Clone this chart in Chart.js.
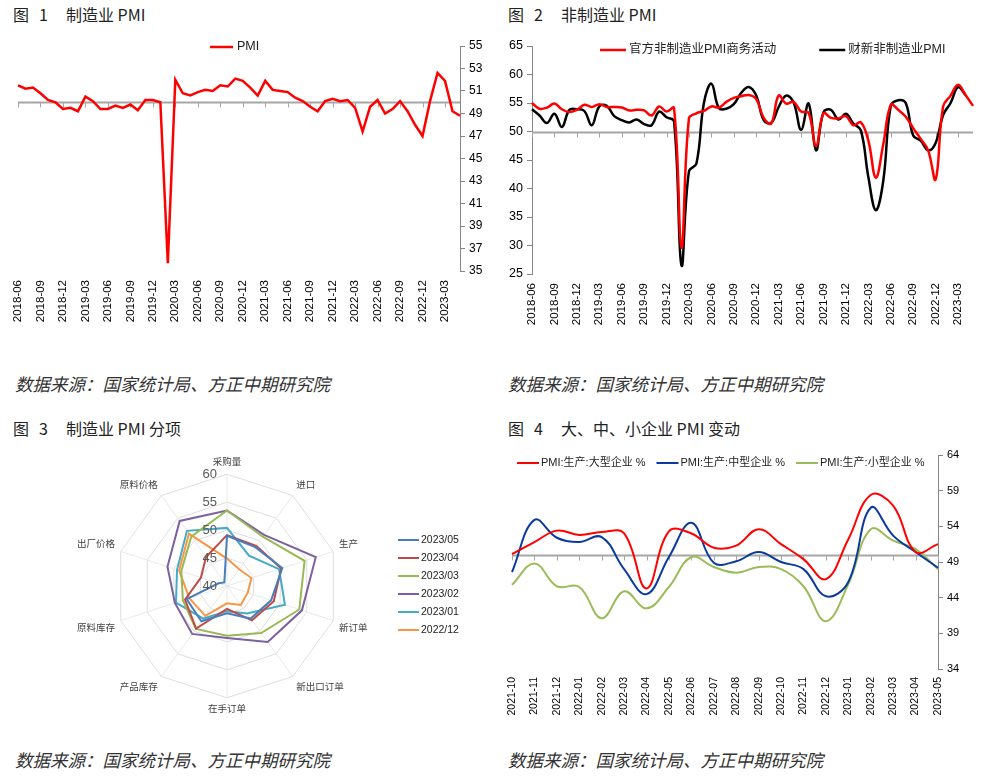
<!DOCTYPE html>
<html>
<head>
<meta charset="utf-8">
<script src="https://cdn.jsdelivr.net/npm/chart.js@4.4.0/dist/chart.umd.min.js"></script>
<style>
body { margin: 0; background: #fff; width: 986px; height: 777px; position: relative; overflow: hidden; font-family: 'Noto Sans CJK SC', sans-serif; }
.ttl { position: absolute; font-size: 16px; color: #222; line-height: 20px; white-space: nowrap; }
.ttl span { display: inline-block; }
.src { position: absolute; font-size: 17.5px; font-style: italic; color: #333; line-height: 22px; white-space: nowrap; }
canvas { position: absolute; }
</style>
</head>
<body>
<div class="ttl" style="left:13px;top:4px"><span style="width:26px">图</span><span style="width:27px">1</span>制造业 PMI</div>
<div class="ttl" style="left:508px;top:4px"><span style="width:26px">图</span><span style="width:27px">2</span>非制造业 PMI</div>
<div class="ttl" style="left:13px;top:418px"><span style="width:26px">图</span><span style="width:27px">3</span>制造业 PMI 分项</div>
<div class="ttl" style="left:508px;top:418px"><span style="width:26px">图</span><span style="width:27px">4</span>大、中、小企业 PMI 变动</div>
<div class="src" style="left:15px;top:373px">数据来源：国家统计局、方正中期研究院</div>
<div class="src" style="left:508px;top:373px">数据来源：国家统计局、方正中期研究院</div>
<div class="src" style="left:15px;top:749px">数据来源：国家统计局、方正中期研究院</div>
<div class="src" style="left:508px;top:749px">数据来源：国家统计局、方正中期研究院</div>

<canvas id="c1" width="490" height="305" style="left:0;top:30px"></canvas>
<canvas id="c2" width="491" height="305" style="left:495px;top:30px"></canvas>
<canvas id="c3" width="490" height="300" style="left:0;top:440px"></canvas>
<canvas id="c4" width="491" height="290" style="left:495px;top:440px"></canvas>

<script>
// ---- data ----
const months = [
  '2018-06','2018-07','2018-08','2018-09','2018-10','2018-11','2018-12',
  '2019-01','2019-02','2019-03','2019-04','2019-05','2019-06','2019-07','2019-08','2019-09','2019-10','2019-11','2019-12',
  '2020-01','2020-02','2020-03','2020-04','2020-05','2020-06','2020-07','2020-08','2020-09','2020-10','2020-11','2020-12',
  '2021-01','2021-02','2021-03','2021-04','2021-05','2021-06','2021-07','2021-08','2021-09','2021-10','2021-11','2021-12',
  '2022-01','2022-02','2022-03','2022-04','2022-05','2022-06','2022-07','2022-08','2022-09','2022-10','2022-11','2022-12',
  '2023-01','2023-02','2023-03','2023-04','2023-05'
];
const mfgPMI = [
  51.5, 51.2, 51.3, 50.8, 50.2, 50.0, 49.4,
  49.5, 49.2, 50.5, 50.1, 49.4, 49.4, 49.7, 49.5, 49.8, 49.3, 50.2, 50.2,
  50.0, 35.7, 52.0, 50.8, 50.6, 50.9, 51.1, 51.0, 51.5, 51.4, 52.1, 51.9,
  51.3, 50.6, 51.9, 51.1, 51.0, 50.9, 50.4, 50.1, 49.6, 49.2, 50.1, 50.3,
  50.1, 50.2, 49.5, 47.4, 49.6, 50.2, 49.0, 49.4, 50.1, 49.2, 48.0, 47.0,
  50.1, 52.6, 51.9, 49.2, 48.8
];
const officialNonMfg = [
  55.0, 54.0, 54.2, 54.9, 53.9, 53.4, 53.8,
  54.7, 54.3, 54.8, 54.3, 54.3, 54.2, 53.7, 53.8, 53.7, 52.8, 54.4, 53.5,
  54.1, 29.6, 52.3, 53.2, 53.6, 54.4, 54.2, 55.2, 55.9, 56.2, 56.4, 55.7,
  52.4, 51.4, 56.3, 54.9, 55.2, 53.5, 53.3, 47.5, 53.2, 52.4, 52.3, 52.7,
  51.1, 51.6, 48.4, 41.9, 47.8, 54.7, 53.8, 52.6, 50.6, 48.7, 46.7, 41.6,
  54.4, 56.3, 58.2, 56.4, 54.5
];
const caixinNonMfg = [
  53.9, 52.8, 51.5, 53.1, 50.8, 53.8, 53.9,
  53.6, 51.1, 54.4, 54.5, 52.7, 52.0, 51.6, 52.1, 51.3, 51.1, 53.5, 52.5,
  51.8, 26.5, 43.0, 44.4, 55.0, 58.4, 54.1, 54.0, 54.8, 56.8, 57.8, 56.3,
  52.0, 51.5, 54.3, 56.3, 55.1, 50.3, 54.9, 46.7, 53.4, 53.8, 52.1, 53.1,
  51.4, 50.2, 42.0, 36.2, 41.4, 54.5, 55.5, 55.0, 49.3, 48.4, 46.7, 48.0,
  52.9, 55.0, 57.8, 56.4, null
];

const radarAxes = ['采购量', '进口', '生产', '新订单', '新出口订单', '在手订单', '产品库存', '原料库存', '出厂价格', '原料价格'];
const radarNames = ['2023/05', '2023/04', '2023/03', '2023/02', '2023/01', '2022/12'];
const radarColors = ['#4a7ebb', '#be4b48', '#98b954', '#7d60a0', '#46aac5', '#f79646'];
const sub202305 = [49.0, 48.6, 50.4, 48.3, 47.2, 44.9, 47.8, 47.6, 41.6, 40.8];
const sub202304 = [49.1, 48.9, 50.2, 48.8, 47.6, 44.1, 49.4, 47.9, 44.9, 46.4];
const sub202303 = [53.5, 50.9, 54.6, 53.6, 50.4, 48.9, 49.5, 48.3, 48.6, 50.9];
const sub202302 = [53.5, 51.3, 56.7, 54.1, 52.4, 49.3, 50.6, 49.8, 51.2, 54.4];
const sub202301 = [50.4, 46.7, 49.8, 50.9, 46.1, 44.5, 47.2, 49.6, 49.4, 52.2];
const sub202212 = [44.9, 43.7, 44.6, 43.9, 44.2, 43.1, 46.6, 47.1, 49.0, 51.6];
const radarSeries = [sub202305, sub202304, sub202303, sub202302, sub202301, sub202212];
const radarTickValues = [40, 45, 50, 55, 60];

const months4 = ['2021-10','2021-11','2021-12','2022-01','2022-02','2022-03','2022-04','2022-05','2022-06','2022-07',
                 '2022-08','2022-09','2022-10','2022-11','2022-12','2023-01','2023-02','2023-03','2023-04','2023-05'];
const prodLarge  = [50.1, 51.8, 53.4, 52.8, 53.2, 53.0, 45.3, 53.3, 53.0, 51.0, 51.3, 53.6, 51.5, 49.4, 46.6, 52.2, 58.4, 56.9, 50.4, 51.5];
const prodMedium = [47.6, 54.9, 52.4, 51.8, 52.5, 48.0, 44.5, 49.7, 54.5, 48.9, 49.1, 50.4, 49.0, 48.0, 44.2, 46.2, 56.6, 52.7, 50.4, 48.2];
const prodSmall  = [45.8, 48.8, 45.6, 45.5, 41.1, 44.9, 42.5, 45.5, 49.7, 48.3, 47.5, 48.3, 48.0, 45.6, 40.7, 45.9, 53.6, 52.0, 50.8, 48.0];

// ---- helpers ----
const NUM_FONT = "'Liberation Sans', Arial, sans-serif";
const CJK_FONT = "'Liberation Sans', 'Noto Sans CJK SC', sans-serif";
const AXIS_GRAY = '#868686';

// horizontal axis line crossing at a value, with tick marks
const crossLine = {
  id: 'crossLine',
  beforeDatasetsDraw(chart, args, o) {
    const {ctx, chartArea, scales: {x, y}} = chart;
    const py = Math.round(y.getPixelForValue(o.value)) + 0.5;
    ctx.save();
    ctx.strokeStyle = o.color;
    ctx.lineWidth = o.width;
    ctx.beginPath();
    ctx.moveTo(chartArea.left, py);
    ctx.lineTo(chartArea.right, py);
    ctx.stroke();
    ctx.lineWidth = 1;
    ctx.beginPath();
    for (let i = 0; i < chart.data.labels.length; i += o.every) {
      const px = Math.round(x.getPixelForValue(i)) + 0.5;
      ctx.moveTo(px, py);
      ctx.lineTo(px, py + o.len);
    }
    ctx.stroke();
    ctx.restore();
  }
};

// legend with short line samples, placed freely
const lineLegend = {
  id: 'lineLegend',
  afterDraw(chart, args, o) {
    const ctx = chart.ctx;
    const ds = chart.data.datasets;
    ctx.save();
    ctx.font = o.font;
    ctx.textBaseline = 'middle';
    ctx.fillStyle = '#222';
    let x = o.x, y = o.y;
    ds.forEach(d => {
      ctx.strokeStyle = d.borderColor;
      ctx.lineWidth = o.lineWidth || d.borderWidth;
      ctx.beginPath();
      ctx.moveTo(x, y);
      ctx.lineTo(x + o.len, y);
      ctx.stroke();
      ctx.fillText(d.label, x + o.len + o.gap, y);
      if (o.vertical) {
        y += o.step;
      } else {
        x += o.len + o.gap + ctx.measureText(d.label).width + o.spacing;
      }
    });
    ctx.restore();
  }
};

// radar tick labels left of the vertical axis
const radarTicks = {
  id: 'radarTicks',
  afterDatasetsDraw(chart, args, o) {
    const r = chart.scales.r;
    const ctx = chart.ctx;
    ctx.save();
    ctx.font = o.font;
    ctx.fillStyle = o.color;
    ctx.textAlign = 'right';
    ctx.textBaseline = 'middle';
    r.ticks.forEach(t => {
      const d = r.getDistanceFromCenterForValue(t.value);
      ctx.fillText(String(t.value), r.xCenter - o.offset, r.yCenter - d);
    });
    ctx.restore();
  }
};

function monthAxis(every, fontSize, pad, height) {
  return {
    type: 'category',
    grid: { display: false, drawTicks: false },
    border: { display: false },
    ticks: {
      autoSkip: false, minRotation: 90, maxRotation: 90, padding: pad,
      color: '#000', font: { family: NUM_FONT, size: fontSize },
      callback(v, i) { return i % every === 0 ? this.getLabelForValue(v) : null; }
    },
    afterFit(s) { s.height = height; }
  };
}

function valueAxis(pos, min, max, step, fontSize, width) {
  return {
    position: pos, min: min, max: max,
    grid: { drawOnChartArea: false, drawTicks: true, tickLength: 5, color: AXIS_GRAY },
    border: { color: AXIS_GRAY },
    ticks: { stepSize: step, padding: 4, color: '#000', font: { family: NUM_FONT, size: fontSize } },
    afterFit(s) { s.width = width; }
  };
}

// ---- chart 1 ----
new Chart(document.getElementById('c1'), {
  type: 'line',
  data: {
    labels: months,
    datasets: [{ label: 'PMI', data: mfgPMI, borderColor: '#ff0000', backgroundColor: '#ff0000', borderWidth: 2.5, pointRadius: 0, tension: 0 }]
  },
  options: {
    responsive: false, animation: false,
    layout: { padding: { left: 18, top: 16, right: 0, bottom: 0 } },
    scales: {
      x: monthAxis(3, 11.5, 9, 64),
      y: valueAxis('right', 35, 55, 2, 12, 30)
    },
    plugins: {
      legend: { display: false }, tooltip: { enabled: false },
      crossLine: { value: 50, every: 3, len: 5, color: '#a6a6a6', width: 2 },
      lineLegend: { x: 210, y: 17, len: 23, gap: 4, spacing: 0, font: "12.5px " + CJK_FONT }
    }
  },
  plugins: [crossLine, lineLegend]
});

// ---- chart 2 ----
new Chart(document.getElementById('c2'), {
  type: 'line',
  data: {
    labels: months,
    datasets: [
      { label: '官方非制造业PMI商务活动', data: officialNonMfg, borderColor: '#ff0000', backgroundColor: '#ff0000', borderWidth: 2.5, pointRadius: 0, tension: 0.4 },
      { label: '财新非制造业PMI', data: caixinNonMfg, borderColor: '#000000', backgroundColor: '#000000', borderWidth: 2.5, pointRadius: 0, tension: 0.4 }
    ]
  },
  options: {
    responsive: false, animation: false,
    layout: { padding: { left: 0, top: 16, right: 13, bottom: 0 } },
    scales: {
      x: monthAxis(3, 11.5, 9, 61),
      y: valueAxis('left', 25, 65, 5, 12.5, 37)
    },
    plugins: {
      legend: { display: false }, tooltip: { enabled: false },
      crossLine: { value: 50, every: 3, len: 5, color: '#a6a6a6', width: 2 },
      lineLegend: { x: 105, y: 20, len: 26, gap: 3, spacing: 43, font: "12.5px " + CJK_FONT }
    }
  },
  plugins: [crossLine, lineLegend]
});

// ---- chart 3 ----
new Chart(document.getElementById('c3'), {
  type: 'radar',
  data: {
    labels: radarAxes,
    datasets: radarSeries.map((s, i) => ({
      label: radarNames[i], data: s, borderColor: radarColors[i], backgroundColor: 'transparent',
      borderWidth: 2, pointRadius: 0, fill: false
    }))
  },
  options: {
    responsive: false, animation: false,
    layout: { padding: { left: 73, right: 117, top: 12, bottom: 20 } },
    scales: {
      r: {
        min: radarTickValues[0], max: radarTickValues[radarTickValues.length - 1],
        ticks: { stepSize: radarTickValues[1] - radarTickValues[0], display: false },
        grid: { color: '#dedede', lineWidth: 1 },
        angleLines: { color: '#e8e8e8' },
        pointLabels: { color: '#404040', padding: 6, font: { family: CJK_FONT, size: 9.5 } }
      }
    },
    plugins: {
      legend: { display: false }, tooltip: { enabled: false },
      radarTicks: { font: "13px " + NUM_FONT, color: '#595959', offset: 10 },
      lineLegend: { x: 398, y: 100, len: 21, gap: 2, step: 18, vertical: true, lineWidth: 2, font: "10.5px " + NUM_FONT }
    }
  },
  plugins: [radarTicks, lineLegend]
});

// ---- chart 4 ----
new Chart(document.getElementById('c4'), {
  type: 'line',
  data: {
    labels: months4,
    datasets: [
      { label: 'PMI:生产:大型企业 %', data: prodLarge, borderColor: '#ff0000', borderWidth: 2, pointRadius: 0, tension: 0.4 },
      { label: 'PMI:生产:中型企业 %', data: prodMedium, borderColor: '#0a3a9e', borderWidth: 2, pointRadius: 0, tension: 0.4 },
      { label: 'PMI:生产:小型企业 %', data: prodSmall, borderColor: '#9bbb59', borderWidth: 2, pointRadius: 0, tension: 0.4 }
    ]
  },
  options: {
    responsive: false, animation: false,
    layout: { padding: { left: 17, top: 15, right: 0, bottom: 0 } },
    scales: {
      x: monthAxis(1, 10.5, 8, 61),
      y: valueAxis('right', 34, 64, 5, 11, 48)
    },
    plugins: {
      legend: { display: false }, tooltip: { enabled: false },
      crossLine: { value: 50, every: 1, len: 5, color: '#a6a6a6', width: 2 },
      lineLegend: { x: 22, y: 23, len: 22, gap: 2, spacing: 11, font: "11px " + CJK_FONT }
    }
  },
  plugins: [crossLine, lineLegend]
});
</script>
</body>
</html>
